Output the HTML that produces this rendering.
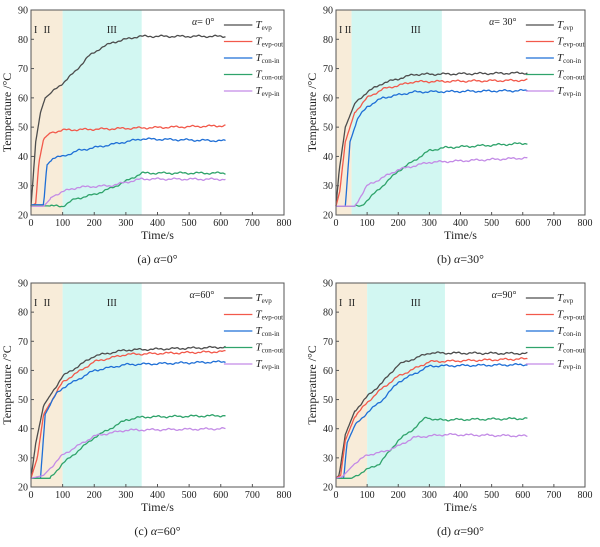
<!DOCTYPE html><html><head><meta charset="utf-8"><style>body{margin:0;background:#fff}svg{display:block}text{font-family:"Liberation Serif",serif;fill:#222}</style></head><body>
<svg id="s" width="600" height="547" xmlns="http://www.w3.org/2000/svg"></svg>
<script>
const C=['#4d4d4d','#f2594b','#1f6fd6','#2fa36b','#c38be6'];
const P=[
{x:31,y:10,w:253,h:205,b:100,c:350,lab:'α= 0°',cap:'(a) α=0°',s:[
[[0,23],[5,30],[15,45],[30,55],[45,60],[100,65],[140,69],[180,74],[220,77],[260,79],[300,80],[340,81],[615,81]],
[[0,23],[15,24],[25,38],[40,46],[60,48],[100,49],[615,50.5]],
[[0,23.5],[40,23.5],[50,37],[70,39.5],[100,40],[150,42],[250,44],[350,46],[615,45.3]],
[[0,23.2],[100,23],[140,25.5],[200,27],[250,29],[300,31.5],[350,34.3],[615,34.3]],
[[0,23],[40,23],[70,26.5],[100,28],[150,29.5],[250,30],[350,32.3],[615,32.2]]]},
{x:336,y:10,w:249,h:205,b:50,c:340,lab:'α= 30°',cap:'(b) α=30°',s:[
[[0,23],[10,35],[30,50],[60,58],[100,62],[150,65],[250,68],[615,68.5]],
[[0,23],[12,28],[30,45],[60,55],[100,60],[150,63],[250,65.5],[615,66]],
[[0,23],[30,23],[45,45],[70,53],[100,57],[150,60],[250,62],[615,62.5]],
[[0,23],[80,23],[120,27],[200,35],[300,42],[350,43],[615,44.5]],
[[0,23],[60,23],[100,30],[200,35.5],[300,38],[615,39.5]]]},
{x:31,y:283,w:253,h:204,b:100,c:350,lab:'α=60°',cap:'(c) α=60°',s:[
[[0,23],[15,35],[40,48],[100,58],[200,65],[300,67],[615,68]],
[[0,23],[20,30],[40,45],[100,56],[200,63],[300,65.5],[615,66.5]],
[[0,23],[30,23],[45,45],[80,52],[100,54],[200,60],[300,62],[615,63]],
[[0,23],[60,23],[100,28],[200,37],[300,43],[350,44],[615,44.5]],
[[0,23],[40,24],[100,31],[200,37.5],[300,39.5],[615,40]]]},
{x:336,y:283,w:249,h:204,b:100,c:350,lab:'α=90°',cap:'(d) α=90°',s:[
[[0,23],[10,24],[30,38],[60,46],[100,51],[150,56],[200,62],[300,66],[615,65.8]],
[[0,23],[15,24],[30,36],[60,44],[100,49],[150,54],[200,58],[300,63],[615,64]],
[[0,23],[25,23],[35,35],[60,41],[100,45.5],[150,50],[200,56],[300,61.5],[615,62]],
[[0,23],[50,23],[100,26],[140,28],[200,36],[250,40],[290,44],[320,43],[615,43.5]],
[[0,23],[20,23.5],[60,28],[100,31],[150,32],[200,34],[250,37],[350,38],[615,37.5]]]}];
const L=[['evp'],['evp-out'],['con-in'],['con-out'],['evp-in']];
let h='';
function interp(p,t){for(let i=1;i<p.length;i++)if(t<=p[i][0]){const a=p[i-1],b=p[i];return a[1]+(b[1]-a[1])*(t-a[0])/(b[0]-a[0]);}return p[p.length-1][1];}
P.forEach((p,pi)=>{
 const X=v=>p.x+v/800*p.w, Y=v=>p.y+p.h-(v-20)/70*p.h;
 h+=`<rect x="${p.x}" y="${p.y}" width="${X(p.b)-p.x}" height="${p.h}" fill="#f8ecd9"/>`;
 h+=`<rect x="${X(p.b)}" y="${p.y}" width="${X(p.c)-X(p.b)}" height="${p.h}" fill="#d2f7f2"/>`;
 p.s.forEach((s,si)=>{let d='';for(let t=0;t<=615;t+=3){let v=interp(s,t);if(t>60)v+=0.25*Math.sin(t*0.11+si*2+pi)+0.15*Math.sin(t*0.37+si);d+=(t?'L':'M')+X(t).toFixed(1)+' '+Y(v).toFixed(1);}
  h+=`<path d="${d}" fill="none" stroke="${C[si]}" stroke-width="1.3"/>`;});
 h+=`<rect x="${p.x}" y="${p.y}" width="${p.w}" height="${p.h}" fill="none" stroke="#555" stroke-width="1"/>`;
 for(let i=0;i<=8;i++){const x=X(i*100);h+=`<line x1="${x}" x2="${x}" y1="${p.y+p.h}" y2="${p.y+p.h-3}" stroke="#555"/><text x="${x}" y="${p.y+p.h+11}" font-size="10" text-anchor="middle">${i*100}</text>`;}
 for(let v=20;v<=90;v+=10){const y=Y(v);h+=`<line x1="${p.x}" x2="${p.x+3}" y1="${y}" y2="${y}" stroke="#555"/><text x="${p.x-3}" y="${y+3.5}" font-size="10" text-anchor="end">${v}</text>`;}
 h+=`<text x="${p.x+p.w*0.5}" y="${p.y+p.h+24}" font-size="12" text-anchor="middle">Time/s</text>`;
 h+=`<text transform="translate(${p.x-20},${p.y+p.h/2}) rotate(-90)" font-size="12" text-anchor="middle">Temperature /°C</text>`;
 h+=`<text x="${p.x+p.w*0.5}" y="${p.y+p.h+48}" font-size="12" text-anchor="middle">${p.cap.replace('α','<tspan font-style="italic">α</tspan>')}</text>`;
 h+=`<text x="${p.x+3}" y="${p.y+23}" font-size="10">I</text><text x="${X(p.b===50?28:40)}" y="${p.y+23}" font-size="10">II</text><text x="${X(240)}" y="${p.y+23}" font-size="10">III</text>`;
 h+=`<text x="${X(580)}" y="${p.y+15}" font-size="10" text-anchor="end"><tspan font-style="italic">α</tspan>${p.lab.slice(1)}</text>`;
 for(let i=0;i<5;i++){const y=p.y+15+i*16.5;h+=`<line x1="${X(610)}" x2="${X(700)}" y1="${y}" y2="${y}" stroke="${C[i]}" stroke-width="1.3"/><text x="${X(710)}" y="${y+3}" font-size="11" font-style="italic">T<tspan font-size="7" font-style="normal" dy="2">${L[i]}</tspan></text>`;}
});
document.getElementById('s').innerHTML=h;
</script></body></html>
